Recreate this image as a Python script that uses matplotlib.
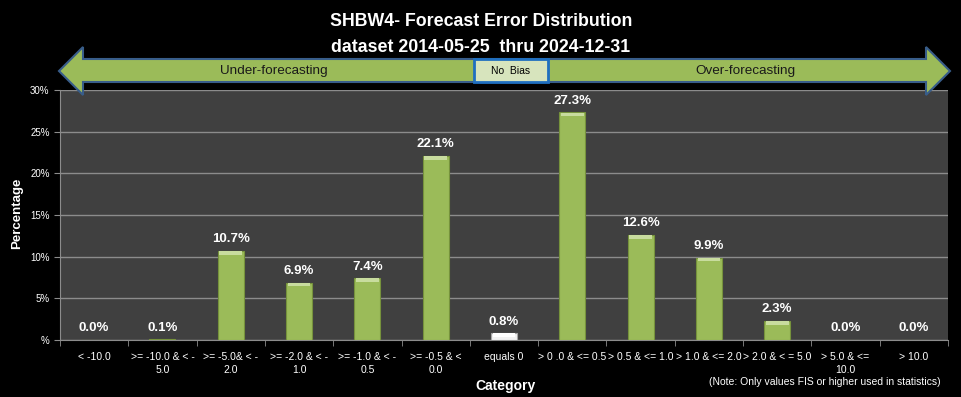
import matplotlib
matplotlib.use("Agg")
import matplotlib.pyplot as plt
from matplotlib.patches import Polygon, Rectangle
from matplotlib.ticker import FixedLocator

categories = ["< -10.0", ">= -10.0 & < -\n5.0", ">= -5.0& < -\n2.0", ">= -2.0 & < -\n1.0",
              ">= -1.0 & < -\n0.5", ">= -0.5 & <\n0.0", "equals 0", "> 0 .0 & <= 0.5",
              "> 0.5 & <= 1.0", "> 1.0 & <= 2.0", "> 2.0 & < = 5.0", "> 5.0 & <=\n10.0", "> 10.0"]
values = [0.0, 0.1, 10.7, 6.9, 7.4, 22.1, 0.8, 27.3, 12.6, 9.9, 2.3, 0.0, 0.0]
value_labels = ["0.0%", "0.1%", "10.7%", "6.9%", "7.4%", "22.1%", "0.8%", "27.3%", "12.6%", "9.9%", "2.3%", "0.0%", "0.0%"]
yticks = [0, 5, 10, 15, 20, 25, 30]
ytick_labels = ["%", "5%", "10%", "15%", "20%", "25%", "30%"]

plt.rcParams['font.family'] = ['Liberation Sans', 'DejaVu Sans']

W, H = 961, 397
fig = plt.figure(figsize=(W / 100, H / 100), dpi=100, facecolor='black')

def px(x, y):
    return (x / W, 1 - y / H)

ax = fig.add_axes([60 / W, (H - 340) / H, 888 / W, 250 / H])
ax.set_facecolor('#404040')

x = list(range(len(categories)))
colors = ['#9BBB59'] * len(values)
edges = ['#76923C'] * len(values)
colors[6] = '#F2F2F2'
edges[6] = '#A6A6A6'
bars = ax.bar(x, values, width=0.38, color=colors, edgecolor=edges, linewidth=0.8, zorder=3)
# top bevel highlight
hl = [0.45 if v > 0.5 else 0 for v in values]
hl_bottom = [v - h for v, h in zip(values, hl)]
hl_colors = ['#C8DC9E'] * len(values)
hl_colors[6] = '#FFFFFF'
ax.bar(x, hl, bottom=hl_bottom, width=0.33, color=hl_colors, linewidth=0, zorder=4)
for b, lab in zip(bars, value_labels):
    ax.annotate(lab, (b.get_x() + b.get_width() / 2, b.get_height()), xytext=(0, 4),
                textcoords='offset points', ha='center', va='bottom', color='white',
                fontsize=9.5, fontweight='bold', zorder=5)

ax.set_xlim(-0.5, len(categories) - 0.5)
ax.set_ylim(0, 30)
ax.yaxis.set_major_locator(FixedLocator(yticks))
ax.set_yticklabels(ytick_labels)
ax.grid(axis='y', color='#8C8C8C', linewidth=1, zorder=1)
ax.set_xticks(x)
ax.set_xticklabels(categories, fontsize=7.5, color='white', linespacing=1.35)
ax.set_xticks([i - 0.5 for i in range(len(categories) + 1)], minor=True)
ax.tick_params(axis='x', which='major', length=0, pad=9)
ax.tick_params(axis='x', which='minor', length=4, color='#8C8C8C')
ax.tick_params(axis='y', colors='white', labelsize=7, length=4, color='#8C8C8C')
ax.spines['top'].set_visible(False)
ax.spines['right'].set_visible(False)
for s in ['left', 'bottom']:
    ax.spines[s].set_color('#8C8C8C')

fig.text(*px(17, 213), 'Percentage', color='white', fontsize=9.5, fontweight='bold',
         rotation=90, ha='center', va='center')
fig.text(*px(506, 386), 'Category', color='white', fontsize=10, fontweight='bold', ha='center', va='center')
fig.text(*px(825, 382), '(Note: Only values FIS or higher used in statistics)', color='white',
         fontsize=7.5, ha='center', va='center')

fig.text(*px(481, 22), 'SHBW4- Forecast Error Distribution', color='white', fontsize=12.8,
         fontweight='bold', ha='center', va='center')
fig.text(*px(481, 47), 'dataset 2014-05-25  thru 2024-12-31', color='white', fontsize=12.8,
         fontweight='bold', ha='center', va='center')

arrow_pts = [(59, 71), (83, 47), (83, 59), (926, 59), (926, 47), (950, 71),
             (926, 95), (926, 82), (83, 82), (83, 95)]
fig.patches.append(Polygon([px(a, b) for a, b in arrow_pts], closed=True, transform=fig.transFigure,
                           facecolor='#9BBB59', edgecolor='#385D8A', linewidth=1.5, zorder=5))
fig.patches.append(Rectangle(px(474, 82), 74 / W, 23 / H, transform=fig.transFigure,
                             facecolor='#D7E4BD', edgecolor='#1F6FC0', linewidth=2, zorder=6))
fig.text(*px(511, 71), 'No  Bias', color='black', fontsize=7.5, ha='center', va='center', zorder=7)
fig.text(*px(274, 71), 'Under-forecasting', color='#1a1a1a', fontsize=9.7, ha='center', va='center', zorder=7)
fig.text(*px(745, 71), 'Over-forecasting', color='#1a1a1a', fontsize=9.7, ha='center', va='center', zorder=7)

fig.savefig('out.png', dpi=100, facecolor='black')
